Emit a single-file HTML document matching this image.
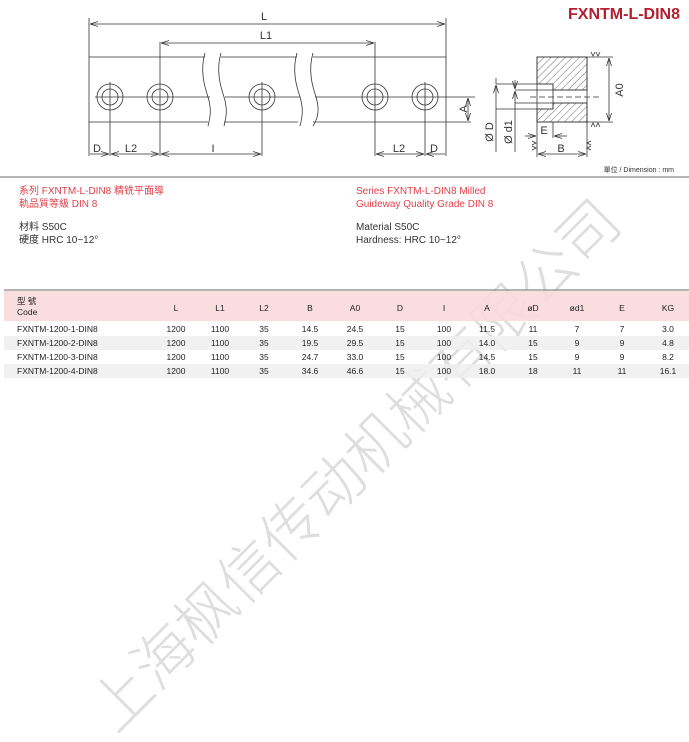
<!DOCTYPE html>
<html><head><meta charset="utf-8"><style>
body{margin:0;background:#fff;}
svg{display:block}
</style></head><body>
<svg width="689" height="742" viewBox="0 0 689 742" xmlns="http://www.w3.org/2000/svg" font-family="Liberation Sans, 'Noto Sans CJK TC', sans-serif">
<defs>
<pattern id="h" width="5" height="5" patternUnits="userSpaceOnUse" patternTransform="rotate(45)">
<line x1="0" y1="0" x2="0" y2="5" stroke="#333" stroke-width="0.7"/>
</pattern>
<marker id="a" markerWidth="8" markerHeight="6" refX="8" refY="3" orient="auto-start-reverse" markerUnits="userSpaceOnUse"><path d="M0,0.5 L8,3 L0,5.5" fill="none" stroke="#333" stroke-width="0.8"/></marker>
</defs>
<text transform="translate(352,462) rotate(-45)" text-anchor="middle" dominant-baseline="central" font-family="'Noto Sans CJK SC', sans-serif" font-size="60" font-weight="200" fill="#dedede">上海枫信传动机械有限公司</text>

<text x="680" y="19" text-anchor="end" font-size="16" font-weight="bold" fill="#b22030">FXNTM-L-DIN8</text>

<g stroke="#333" stroke-width="0.8" fill="none">
<line x1="89" y1="57" x2="205" y2="57"/><line x1="221" y1="57" x2="297" y2="57"/><line x1="313" y1="57" x2="446" y2="57"/>
<line x1="89" y1="122" x2="208" y2="122"/><line x1="224" y1="122" x2="298" y2="122"/><line x1="313" y1="122" x2="446" y2="122"/>
<line x1="89" y1="18" x2="89" y2="156"/><line x1="446" y1="18" x2="446" y2="156"/>
<line x1="95" y1="97" x2="210" y2="97"/><line x1="225" y1="97" x2="300" y2="97"/><line x1="315" y1="97" x2="475" y2="97"/>
<path d="M205,53 C200,70 204,85 208,97 C212,110 210,118 208,126"/>
<path d="M221,53 C216,70 220,85 224,97 C228,110 226,118 224,126"/>
<path d="M297,53 C292,70 296,85 300,97 C304,110 302,118 300,126"/>
<path d="M313,53 C308,70 312,85 316,97 C320,110 318,118 313,126"/>
<g>
<circle cx="110" cy="97" r="13"/><circle cx="110" cy="97" r="8"/>
<circle cx="160" cy="97" r="13"/><circle cx="160" cy="97" r="8"/>
<circle cx="262" cy="97" r="13"/><circle cx="262" cy="97" r="8"/>
<circle cx="375" cy="97" r="13"/><circle cx="375" cy="97" r="8"/>
<circle cx="425" cy="97" r="13"/><circle cx="425" cy="97" r="8"/>
</g>
<line x1="110" y1="82" x2="110" y2="156"/><line x1="160" y1="42" x2="160" y2="156"/><line x1="262" y1="82" x2="262" y2="156"/>
<line x1="375" y1="42" x2="375" y2="156"/><line x1="425" y1="82" x2="425" y2="156"/>
<line x1="446" y1="122" x2="471" y2="122"/>
<line x1="90" y1="24" x2="445" y2="24" marker-start="url(#a)" marker-end="url(#a)"/>
<line x1="161" y1="43" x2="374" y2="43" marker-start="url(#a)" marker-end="url(#a)"/>
<line x1="90" y1="154" x2="109" y2="154" marker-end="url(#a)"/>
<line x1="111" y1="154" x2="159" y2="154" marker-start="url(#a)" marker-end="url(#a)"/>
<line x1="161" y1="154" x2="261" y2="154" marker-start="url(#a)" marker-end="url(#a)"/>
<line x1="376" y1="154" x2="424" y2="154" marker-start="url(#a)" marker-end="url(#a)"/>
<line x1="426" y1="154" x2="445" y2="154" marker-start="url(#a)"/>
<line x1="468" y1="98" x2="468" y2="121" marker-start="url(#a)" marker-end="url(#a)"/>

<path d="M537,57 H587 V90 H553 V84 H537 Z" fill="url(#h)"/>
<path d="M537,109 H553 V103 H587 V122 H537 Z" fill="url(#h)"/>
<rect x="537" y="57" width="50" height="65"/>
<line x1="496" y1="84" x2="553" y2="84"/><line x1="496" y1="109" x2="553" y2="109"/>
<line x1="515" y1="90" x2="587" y2="90"/><line x1="515" y1="103" x2="587" y2="103"/>
<line x1="553" y1="84" x2="553" y2="109"/><line x1="553" y1="122" x2="553" y2="138"/>
<line x1="530" y1="97" x2="600" y2="97" stroke-dasharray="6,3"/>
<line x1="496" y1="85" x2="496" y2="152" marker-start="url(#a)"/>
<line x1="496" y1="84" x2="496" y2="78"/>
<line x1="515" y1="91" x2="515" y2="152" marker-start="url(#a)"/>
<line x1="515" y1="80" x2="515" y2="89" marker-end="url(#a)"/>
<line x1="587" y1="57" x2="613" y2="57"/><line x1="587" y1="122" x2="613" y2="122"/>
<line x1="609" y1="58" x2="609" y2="121" marker-start="url(#a)" marker-end="url(#a)"/>
<line x1="525" y1="136" x2="536" y2="136" marker-end="url(#a)"/>
<line x1="554" y1="136" x2="567" y2="136" marker-start="url(#a)"/>
<line x1="537" y1="122" x2="537" y2="157"/><line x1="587" y1="122" x2="587" y2="157"/>
<line x1="538" y1="154" x2="586" y2="154" marker-start="url(#a)" marker-end="url(#a)"/>
<path d="M591,52 l2,4 l2,-4 M596,52 l2,4 l2,-4"/>
<path d="M591,127 l2,-4 l2,4 M596,127 l2,-4 l2,4"/>
<path d="M532,141 l4,2 l-4,2 M532,146 l4,2 l-4,2"/>
<path d="M591,141 l-4,2 l4,2 M591,146 l-4,2 l4,2"/>
</g>
<g font-size="11" fill="#333">
<text x="264" y="20" text-anchor="middle">L</text>
<text x="266" y="39" text-anchor="middle">L1</text>
<text x="97" y="152" text-anchor="middle">D</text>
<text x="131" y="152" text-anchor="middle">L2</text>
<text x="213" y="152" text-anchor="middle">I</text>
<text x="399" y="152" text-anchor="middle">L2</text>
<text x="434" y="152" text-anchor="middle">D</text>
<text transform="translate(467,109) rotate(-90)" text-anchor="middle">A</text>
<text transform="translate(623,90) rotate(-90)" text-anchor="middle">A0</text>
<text transform="translate(493,132) rotate(-90)" text-anchor="middle">Ø D</text>
<text transform="translate(512,132) rotate(-90)" text-anchor="middle">Ø d1</text>
<text x="544" y="134" text-anchor="middle">E</text>
<text x="561" y="152" text-anchor="middle">B</text>
</g>
<text x="674" y="172" text-anchor="end" font-size="7" fill="#333">單位 / Dimension : mm</text>
<line x1="0" y1="177" x2="689" y2="177" stroke="#888" stroke-width="1.2"/>

<g font-size="10" font-family="Liberation Sans, 'Noto Sans CJK TC', sans-serif">
<text x="19" y="194" fill="#e0404a">系列 FXNTM-L-DIN8 精铣平面導</text>
<text x="19" y="207" fill="#e0404a">軌品質等級 DIN 8</text>
<text x="19" y="230" fill="#333">材料 S50C</text>
<text x="19" y="243" fill="#333">硬度 HRC 10~12°</text>
<text x="356" y="194" fill="#e0404a">Series FXNTM-L-DIN8 Milled</text>
<text x="356" y="207" fill="#e0404a">Guideway Quality Grade DIN 8</text>
<text x="356" y="230" fill="#333">Material S50C</text>
<text x="356" y="243" fill="#333">Hardness: HRC 10~12°</text>
</g>

<line x1="4" y1="290" x2="689" y2="290" stroke="#888" stroke-width="1.2"/>
<rect x="4" y="291" width="685" height="30" fill="#fadadb" fill-opacity="0.9"/>
<rect x="4" y="336" width="685" height="14" fill="#efefef" fill-opacity="0.85"/>
<rect x="4" y="364" width="685" height="14" fill="#efefef" fill-opacity="0.85"/>
<g font-size="8.5" fill="#222" text-anchor="middle">
<text x="17" y="304" text-anchor="start">型 號</text>
<text x="17" y="315" text-anchor="start">Code</text>
<text x="176" y="311">L</text><text x="220" y="311">L1</text><text x="264" y="311">L2</text><text x="310" y="311">B</text><text x="355" y="311">A0</text><text x="400" y="311">D</text><text x="444" y="311">I</text><text x="487" y="311">A</text><text x="533" y="311">øD</text><text x="577" y="311">ød1</text><text x="622" y="311">E</text><text x="668" y="311">KG</text>
</g>
<g font-size="8.5" fill="#222" text-anchor="middle">
<g transform="translate(0,332)"><text x="17" text-anchor="start">FXNTM-1200-1-DIN8</text><text x="176">1200</text><text x="220">1100</text><text x="264">35</text><text x="310">14.5</text><text x="355">24.5</text><text x="400">15</text><text x="444">100</text><text x="487">11.5</text><text x="533">11</text><text x="577">7</text><text x="622">7</text><text x="668">3.0</text></g>
<g transform="translate(0,346)"><text x="17" text-anchor="start">FXNTM-1200-2-DIN8</text><text x="176">1200</text><text x="220">1100</text><text x="264">35</text><text x="310">19.5</text><text x="355">29.5</text><text x="400">15</text><text x="444">100</text><text x="487">14.0</text><text x="533">15</text><text x="577">9</text><text x="622">9</text><text x="668">4.8</text></g>
<g transform="translate(0,360)"><text x="17" text-anchor="start">FXNTM-1200-3-DIN8</text><text x="176">1200</text><text x="220">1100</text><text x="264">35</text><text x="310">24.7</text><text x="355">33.0</text><text x="400">15</text><text x="444">100</text><text x="487">14.5</text><text x="533">15</text><text x="577">9</text><text x="622">9</text><text x="668">8.2</text></g>
<g transform="translate(0,374)"><text x="17" text-anchor="start">FXNTM-1200-4-DIN8</text><text x="176">1200</text><text x="220">1100</text><text x="264">35</text><text x="310">34.6</text><text x="355">46.6</text><text x="400">15</text><text x="444">100</text><text x="487">18.0</text><text x="533">18</text><text x="577">11</text><text x="622">11</text><text x="668">16.1</text></g>
</g>
</svg>
</body></html>
